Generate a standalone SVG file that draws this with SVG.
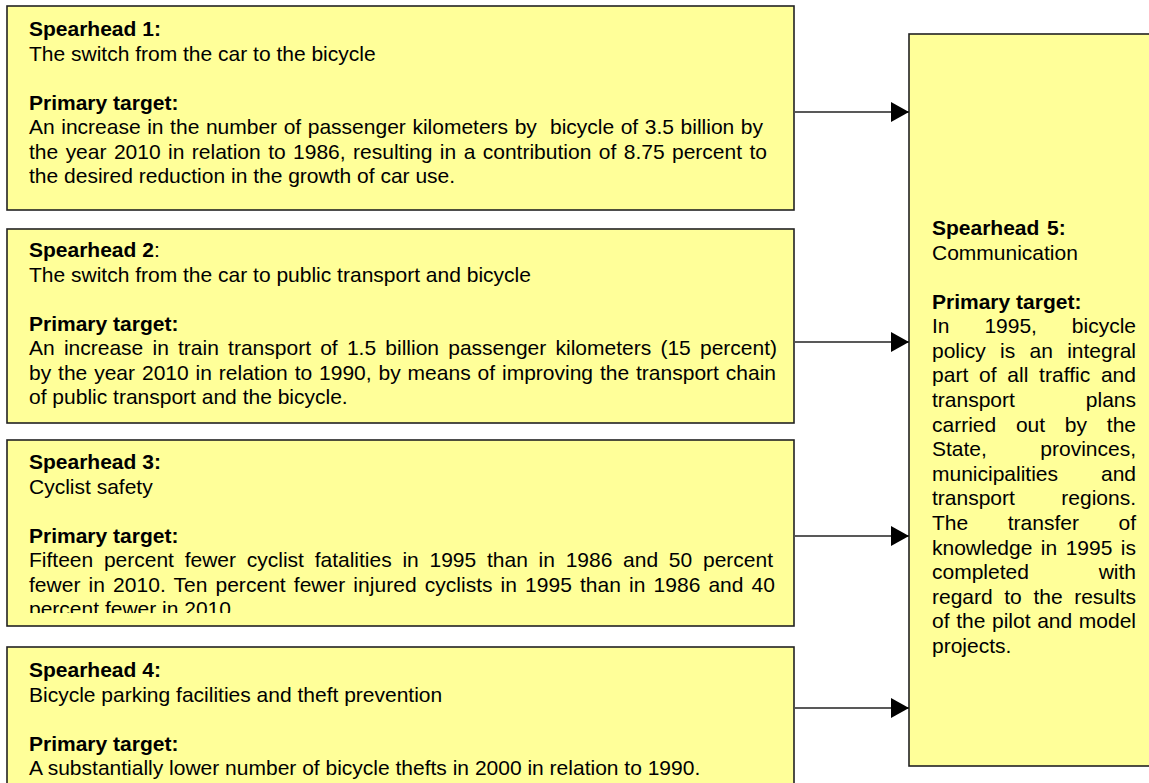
<svg xmlns="http://www.w3.org/2000/svg" width="1149" height="783" viewBox="0 0 1149 783">
<style>
.box{fill:#FFFF99;stroke:#222;stroke-width:1.6}
text{font-family:"Liberation Sans",Arial,sans-serif;font-size:21px;fill:#000}
.b{font-weight:bold}
.conn{stroke:#222;stroke-width:1.6;fill:none}
</style>
<defs>
<marker id="arr" markerUnits="userSpaceOnUse" markerWidth="18" markerHeight="20" refX="18" refY="10" orient="auto">
<path d="M0,0 L18,10 L0,20 Z" fill="#000"/>
</marker>
<clipPath id="clip3"><rect x="7" y="440" width="787" height="173"/></clipPath>
</defs>
<rect width="1149" height="783" fill="#fff"/>

<g id="spearhead1">
<rect class="box" x="7" y="6" width="787" height="204"/>
<text x="29" y="36" class="b">Spearhead 1:</text>
<text x="29" y="60.5">The switch from the car to the bicycle</text>
<text x="29" y="109.5" class="b">Primary target:</text>
<text x="29" y="134" textLength="734" lengthAdjust="spacing" xml:space="preserve" style="word-spacing:0.74px">An increase in the number of passenger kilometers by  bicycle of 3.5 billion by</text>
<text x="29" y="158.5" textLength="738" lengthAdjust="spacing" style="word-spacing:1.6px">the year 2010 in relation to 1986, resulting in a contribution of 8.75 percent to</text>
<text x="29" y="183">the desired reduction in the growth of car use.</text>
</g>

<g id="spearhead2">
<rect class="box" x="7" y="229" width="787" height="194"/>
<text x="29" y="257"><tspan class="b">Spearhead 2</tspan>:</text>
<text x="29" y="281.5">The switch from the car to public transport and bicycle</text>
<text x="29" y="330.5" class="b">Primary target:</text>
<text x="29" y="355" textLength="748" lengthAdjust="spacing" style="word-spacing:3.38px">An increase in train transport of 1.5 billion passenger kilometers (15 percent)</text>
<text x="29" y="379.5" textLength="747" lengthAdjust="spacing" style="word-spacing:1.08px">by the year 2010 in relation to 1990, by means of improving the transport chain</text>
<text x="29" y="404">of public transport and the bicycle.</text>
</g>

<g id="spearhead3">
<rect class="box" x="7" y="440" width="787" height="186"/>
<g clip-path="url(#clip3)">
<text x="29" y="469" class="b">Spearhead 3:</text>
<text x="29" y="493.5">Cyclist safety</text>
<text x="29" y="542.5" class="b">Primary target:</text>
<text x="29" y="567" textLength="744" lengthAdjust="spacing" style="word-spacing:4.9px">Fifteen percent fewer cyclist fatalities in 1995 than in 1986 and 50 percent</text>
<text x="29" y="591.5" textLength="746" lengthAdjust="spacing" style="word-spacing:2.18px">fewer in 2010. Ten percent fewer injured cyclists in 1995 than in 1986 and 40</text>
<text x="29" y="616">percent fewer in 2010</text>
</g>
</g>

<g id="spearhead4">
<rect class="box" x="7" y="647" width="787" height="200"/>
<text x="29" y="677" class="b">Spearhead 4:</text>
<text x="29" y="701.5">Bicycle parking facilities and theft prevention</text>
<text x="29" y="750.5" class="b">Primary target:</text>
<text x="29" y="775">A substantially lower number of bicycle thefts in 2000 in relation to 1990.</text>
</g>

<g id="spearhead5">
<rect class="box" x="909" y="34" width="300" height="732"/>
<text x="932" y="235" class="b">Spearhead<tspan x="1047">5:</tspan></text>
<text x="932" y="259.5">Communication</text>
<text x="932" y="308.5" class="b">Primary target:</text>
<text x="932" y="333" textLength="204" lengthAdjust="spacing" style="word-spacing:29.05px">In 1995, bicycle</text>
<text x="932" y="357.7" textLength="204" lengthAdjust="spacing" style="word-spacing:8.48px">policy is an integral</text>
<text x="932" y="382.3" textLength="204" lengthAdjust="spacing" style="word-spacing:4.9px">part of all traffic and</text>
<text x="932" y="407" textLength="204" lengthAdjust="spacing" style="word-spacing:65.1px">transport plans</text>
<text x="932" y="431.6" textLength="204" lengthAdjust="spacing" style="word-spacing:13.92px">carried out by the</text>
<text x="932" y="456.2" textLength="204" lengthAdjust="spacing" style="word-spacing:47.59px">State, provinces,</text>
<text x="932" y="480.8" textLength="204" lengthAdjust="spacing" style="word-spacing:37.11px">municipalities and</text>
<text x="932" y="505.4" textLength="204" lengthAdjust="spacing" style="word-spacing:40.6px">transport regions.</text>
<text x="932" y="530" textLength="204" lengthAdjust="spacing" style="word-spacing:33.72px">The transfer of</text>
<text x="932" y="554.6" textLength="204" lengthAdjust="spacing" style="word-spacing:2.64px">knowledge in 1995 is</text>
<text x="932" y="579.2" textLength="204" lengthAdjust="spacing" style="word-spacing:63.95px">completed with</text>
<text x="932" y="603.8" textLength="204" lengthAdjust="spacing" style="word-spacing:5.75px">regard to the results</text>
<text x="932" y="628.4" textLength="204" lengthAdjust="spacing" style="word-spacing:0.8px">of the pilot and model</text>
<text x="932" y="653">projects.</text>
</g>

<g id="connectors">
<line class="conn" x1="795" y1="112" x2="909" y2="112" marker-end="url(#arr)"/>
<line class="conn" x1="795" y1="342" x2="909" y2="342" marker-end="url(#arr)"/>
<line class="conn" x1="795" y1="536" x2="909" y2="536" marker-end="url(#arr)"/>
<line class="conn" x1="795" y1="708" x2="909" y2="708" marker-end="url(#arr)"/>
</g>
</svg>
